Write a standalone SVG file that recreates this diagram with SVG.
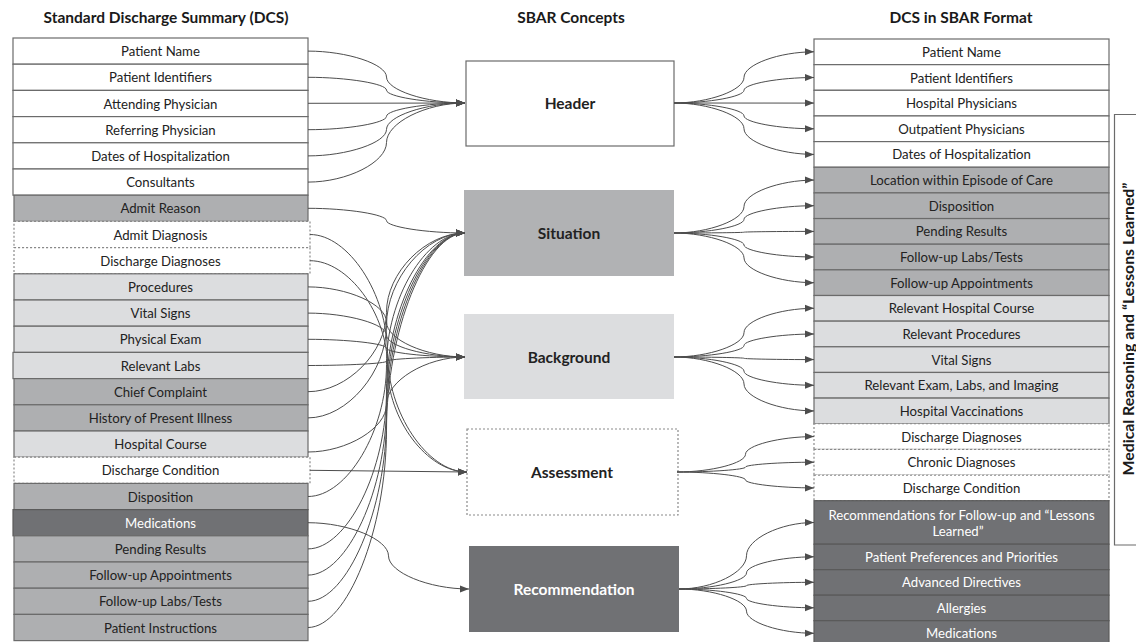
<svg xmlns="http://www.w3.org/2000/svg" width="1136" height="642" viewBox="0 0 1136 642">
<defs>
<style>
text{font-family:Lato,"Open Sans","Liberation Sans",sans-serif;fill:#222}
.t{font-size:15.5px;font-weight:bold;text-anchor:middle;fill:#1a1a1a}
.v{font-size:15.8px;font-weight:bold;text-anchor:middle;fill:#1a1a1a}
.r{font-size:13.2px;text-anchor:middle;dominant-baseline:central}
.c{font-size:15.5px;font-weight:bold;text-anchor:middle;dominant-baseline:central}
.w{fill:#fff}
.bw{fill:#fff;stroke:#6b6b6b;stroke-width:1.2}
.bm{fill:#aeafb1;stroke:#6b6b6b;stroke-width:1.2}
.bl{fill:#dcdddf;stroke:#6b6b6b;stroke-width:1.2}
.bd{fill:#707174;stroke:#5a5a5a;stroke-width:1.2}
.bx{fill:#fff;stroke:#8a8a8a;stroke-width:1.2;stroke-dasharray:2 2}
.cn{fill:none;stroke:#4d4d4d;stroke-width:1;marker-end:url(#ah)}
</style>
<marker id="ah" markerUnits="userSpaceOnUse" markerWidth="9" markerHeight="8" refX="9" refY="4" orient="auto">
<path d="M0,0.5 L9,4 L0,7.5 z" fill="#4d4d4d"/>
</marker>
</defs>
<rect width="1136" height="642" fill="#fff"/>
<g id="titles">
<text class="t" x="166" y="23">Standard Discharge Summary (DCS)</text>
<text class="t" x="571" y="23">SBAR Concepts</text>
<text class="t" x="961" y="23">DCS in SBAR Format</text>
</g>
<g id="left">
<g id="l0"><rect class="bw" x="13" y="38" width="295" height="26.2"/><text class="r" x="160.5" y="51.1">Patient Name</text></g>
<g id="l1"><rect class="bw" x="13" y="64.2" width="295" height="26.2"/><text class="r" x="160.5" y="77.3">Patient Identifiers</text></g>
<g id="l2"><rect class="bw" x="13" y="90.4" width="295" height="26.2"/><text class="r" x="160.5" y="103.5">Attending Physician</text></g>
<g id="l3"><rect class="bw" x="13" y="116.6" width="295" height="26.2"/><text class="r" x="160.5" y="129.7">Referring Physician</text></g>
<g id="l4"><rect class="bw" x="13" y="142.8" width="295" height="26.2"/><text class="r" x="160.5" y="155.9">Dates of Hospitalization</text></g>
<g id="l5"><rect class="bw" x="13" y="169" width="295" height="26.2"/><text class="r" x="160.5" y="182.1">Consultants</text></g>
<g id="l6"><rect class="bm" x="14" y="195.2" width="294" height="26.2"/><text class="r" x="160.5" y="208.3">Admit Reason</text></g>
<g id="l7"><rect class="bx" x="14" y="221.4" width="296" height="26.2"/><text class="r" x="160.5" y="234.5">Admit Diagnosis</text></g>
<g id="l8"><rect class="bx" x="14" y="247.6" width="296" height="26.2"/><text class="r" x="160.5" y="260.7">Discharge Diagnoses</text></g>
<g id="l9"><rect class="bl" x="14" y="273.8" width="294" height="26.2"/><text class="r" x="160.5" y="286.9">Procedures</text></g>
<g id="l10"><rect class="bl" x="14" y="300" width="294" height="26.2"/><text class="r" x="160.5" y="313.1">Vital Signs</text></g>
<g id="l11"><rect class="bl" x="14" y="326.2" width="294" height="26.2"/><text class="r" x="160.5" y="339.3">Physical Exam</text></g>
<g id="l12"><rect class="bl" x="13" y="352.4" width="295" height="26.2"/><text class="r" x="160.5" y="365.5">Relevant Labs</text></g>
<g id="l13"><rect class="bm" x="14" y="378.6" width="294" height="26.2"/><text class="r" x="160.5" y="391.7">Chief Complaint</text></g>
<g id="l14"><rect class="bm" x="14" y="404.8" width="294" height="26.2"/><text class="r" x="160.5" y="417.9">History of Present Illness</text></g>
<g id="l15"><rect class="bl" x="14" y="431" width="294" height="26.2"/><text class="r" x="160.5" y="444.1">Hospital Course</text></g>
<g id="l16"><rect class="bx" x="14" y="457.2" width="296" height="26.2"/><text class="r" x="160.5" y="470.3">Discharge Condition</text></g>
<g id="l17"><rect class="bm" x="14" y="483.4" width="294" height="26.2"/><text class="r" x="160.5" y="496.5">Disposition</text></g>
<g id="l18"><rect class="bd" x="13" y="509.6" width="295" height="26.2"/><text class="r w" x="160.5" y="522.7">Medications</text></g>
<g id="l19"><rect class="bm" x="14" y="535.8" width="294" height="26.2"/><text class="r" x="160.5" y="548.9">Pending Results</text></g>
<g id="l20"><rect class="bm" x="14" y="562" width="294" height="26.2"/><text class="r" x="160.5" y="575.1">Follow-up Appointments</text></g>
<g id="l21"><rect class="bm" x="14" y="588.2" width="294" height="26.2"/><text class="r" x="160.5" y="601.3">Follow-up Labs/Tests</text></g>
<g id="l22"><rect class="bm" x="14" y="614.4" width="294" height="26.2"/><text class="r" x="160.5" y="627.5">Patient Instructions</text></g>
</g>
<g id="center">
<g id="header"><rect x="466" y="61" width="208" height="85" fill="#fff" stroke="#6b6b6b" stroke-width="1.2"/><text class="c" x="570" y="103">Header</text></g>
<g id="situation"><rect x="464" y="190" width="210" height="86" fill="#b1b2b4"/><text class="c" x="569" y="233">Situation</text></g>
<g id="background"><rect x="464" y="314" width="210" height="85" fill="#dcdddf"/><text class="c" x="569" y="357">Background</text></g>
<g id="assessment"><rect x="467" y="429" width="211" height="86" fill="#fff" stroke="#8a8a8a" stroke-width="1.2" stroke-dasharray="2 2"/><text class="c" x="572" y="472">Assessment</text></g>
<g id="recommendation"><rect x="469" y="546" width="210" height="86" fill="#707174"/><text class="c w" x="574" y="589">Recommendation</text></g>
</g>
<g id="right">
<g id="r0"><rect class="bw" x="814" y="39" width="295" height="25.65"/><text class="r" x="961.5" y="51.8">Patient Name</text></g>
<g id="r1"><rect class="bw" x="814" y="64.65" width="295" height="25.65"/><text class="r" x="961.5" y="77.5">Patient Identifiers</text></g>
<g id="r2"><rect class="bw" x="814" y="90.3" width="295" height="25.65"/><text class="r" x="961.5" y="103.1">Hospital Physicians</text></g>
<g id="r3"><rect class="bw" x="814" y="115.95" width="295" height="25.65"/><text class="r" x="961.5" y="128.8">Outpatient Physicians</text></g>
<g id="r4"><rect class="bw" x="814" y="141.6" width="295" height="25.65"/><text class="r" x="961.5" y="154.4">Dates of Hospitalization</text></g>
<g id="r5"><rect class="bm" x="814" y="167.25" width="295" height="25.65"/><text class="r" x="961.5" y="180.1">Location within Episode of Care</text></g>
<g id="r6"><rect class="bm" x="814" y="192.9" width="295" height="25.65"/><text class="r" x="961.5" y="205.7">Disposition</text></g>
<g id="r7"><rect class="bm" x="814" y="218.55" width="295" height="25.65"/><text class="r" x="961.5" y="231.4">Pending Results</text></g>
<g id="r8"><rect class="bm" x="814" y="244.2" width="295" height="25.65"/><text class="r" x="961.5" y="257">Follow-up Labs/Tests</text></g>
<g id="r9"><rect class="bm" x="814" y="269.85" width="295" height="25.65"/><text class="r" x="961.5" y="282.7">Follow-up Appointments</text></g>
<g id="r10"><rect class="bl" x="814" y="295.5" width="295" height="25.65"/><text class="r" x="961.5" y="308.3">Relevant Hospital Course</text></g>
<g id="r11"><rect class="bl" x="814" y="321.15" width="295" height="25.65"/><text class="r" x="961.5" y="334">Relevant Procedures</text></g>
<g id="r12"><rect class="bl" x="814" y="346.8" width="295" height="25.65"/><text class="r" x="961.5" y="359.6">Vital Signs</text></g>
<g id="r13"><rect class="bl" x="814" y="372.45" width="295" height="25.65"/><text class="r" x="961.5" y="385.3">Relevant Exam, Labs, and Imaging</text></g>
<g id="r14"><rect class="bl" x="814" y="398.1" width="295" height="25.65"/><text class="r" x="961.5" y="410.9">Hospital Vaccinations</text></g>
<g id="r15"><rect class="bx" x="814" y="423.75" width="295" height="25.65"/><text class="r" x="961.5" y="436.6">Discharge Diagnoses</text></g>
<g id="r16"><rect class="bx" x="814" y="449.4" width="295" height="25.65"/><text class="r" x="961.5" y="462.2">Chronic Diagnoses</text></g>
<g id="r17"><rect class="bx" x="814" y="475.05" width="295" height="25.65"/><text class="r" x="961.5" y="487.9">Discharge Condition</text></g>
<g id="r18"><rect class="bd" x="814" y="500.7" width="295" height="43.5"/><text class="r w" x="961.5" y="514.5">Recommendations for Follow-up and “Lessons</text><text class="r w" x="958" y="531">Learned”</text></g>
<g id="r19"><rect class="bd" x="814" y="544.2" width="295" height="25.5"/><text class="r w" x="961.5" y="556.8">Patient Preferences and Priorities</text></g>
<g id="r20"><rect class="bd" x="814" y="569.7" width="295" height="25.5"/><text class="r w" x="961.5" y="582.3">Advanced Directives</text></g>
<g id="r21"><rect class="bd" x="814" y="595.2" width="295" height="25.5"/><text class="r w" x="961.5" y="607.8">Allergies</text></g>
<g id="r22"><rect class="bd" x="814" y="620.7" width="295" height="25.5"/><text class="r w" x="961.5" y="633.3">Medications</text></g>
</g>
<g id="bracket">
<path d="M1136,114.5 H1114.5 V545 H1136" fill="none" stroke="#6b6b6b" stroke-width="1.2"/>
<text class="v" transform="translate(1133.5,329) rotate(-90)" x="0" y="0">Medical Reasoning and “Lessons Learned”</text>
</g>
<g id="connectors">
<path class="cn" d="M308,51.1 C347.25,51.1 386.5,64.1 386.5,77.05 C386.5,90 425.75,103 465,103"/>
<path class="cn" d="M308,77.3 C347.25,77.3 386.5,83.7 386.5,90.15 C386.5,96.6 425.75,103 465,103"/>
<path class="cn" d="M308,103.3 L465,103"/>
<path class="cn" d="M308,129.7 C347.25,129.7 386.5,123 386.5,116.35 C386.5,109.7 425.75,103 465,103"/>
<path class="cn" d="M308,155.9 C347.25,155.9 386.5,142.7 386.5,129.45 C386.5,116.2 425.75,103 465,103"/>
<path class="cn" d="M308,182.1 C347.25,182.1 386.5,162.3 386.5,142.55 C386.5,122.8 425.75,103 465,103"/>
<path class="cn" d="M308,208.3 C347.25,208.3 386.5,214.5 386.5,220.65 C386.5,226.8 425.75,233 465,233"/>
<path class="cn" d="M308,391.7 C347.25,391.7 386.5,352 386.5,312.35 C386.5,272.7 425.75,233 465,233"/>
<path class="cn" d="M308,417.9 C347.25,417.9 386.5,371.7 386.5,325.45 C386.5,279.2 425.75,233 465,233"/>
<path class="cn" d="M308,496.5 C347.25,496.5 386.5,430.6 386.5,364.75 C386.5,298.9 425.75,233 465,233"/>
<path class="cn" d="M308,548.9 C347.25,548.9 386.5,469.9 386.5,390.95 C386.5,312 425.75,233 465,233"/>
<path class="cn" d="M308,575.1 C347.25,575.1 386.5,489.6 386.5,404.05 C386.5,318.5 425.75,233 465,233"/>
<path class="cn" d="M308,601.3 C347.25,601.3 386.5,509.2 386.5,417.15 C386.5,325.1 425.75,233 465,233"/>
<path class="cn" d="M308,627.5 C347.25,627.5 386.5,528.9 386.5,430.25 C386.5,331.6 425.75,233 465,233"/>
<path class="cn" d="M308,286.9 C347.25,286.9 386.5,304.4 386.5,321.95 C386.5,339.5 425.75,357 465,357"/>
<path class="cn" d="M308,313.1 C347.25,313.1 386.5,324.1 386.5,335.05 C386.5,346 425.75,357 465,357"/>
<path class="cn" d="M308,339.3 C347.25,339.3 386.5,343.7 386.5,348.15 C386.5,352.6 425.75,357 465,357"/>
<path class="cn" d="M308,365.5 C347.25,365.5 386.5,363.4 386.5,361.25 C386.5,359.1 425.75,357 465,357"/>
<path class="cn" d="M308,452 C347.25,452 386.5,428 386.5,404.5 C386.5,381 425.75,357 465,357"/>
<path class="cn" d="M310,234.5 C348.25,234.5 387.5,293.9 387.5,353.25 C387.5,412.6 427.25,472 467,472"/>
<path class="cn" d="M310,260.7 C348.25,260.7 387.5,313.5 387.5,366.35 C387.5,419.2 427.25,472 467,472"/>
<path class="cn" d="M310,470.3 L467,472"/>
<path class="cn" d="M308,522.7 C348.25,522.7 388.5,539.3 388.5,555.85 C388.5,572.4 428.75,589 469,589"/>
<path class="cn" d="M674,103 C709,103 744,90.2 744,77.4 C744,64.6 779,51.8 814,51.8"/>
<path class="cn" d="M674,103 C709,103 744,96.6 744,90.25 C744,83.9 779,77.5 814,77.5"/>
<path class="cn" d="M674,103 L814,103.1"/>
<path class="cn" d="M674,103 C709,103 744,109.45 744,115.9 C744,122.35 779,128.8 814,128.8"/>
<path class="cn" d="M674,103 C709,103 744,115.85 744,128.7 C744,141.55 779,154.4 814,154.4"/>
<path class="cn" d="M674,233 C709,233 744,219.8 744,206.55 C744,193.3 779,180.1 814,180.1"/>
<path class="cn" d="M674,233 C709,233 744,226.2 744,219.35 C744,212.5 779,205.7 814,205.7"/>
<path class="cn" d="M674,233 C709,233 744,232.6 744,232.2 C744,231.8 779,231.4 814,231.4"/>
<path class="cn" d="M674,233 C709,233 744,239 744,245 C744,251 779,257 814,257"/>
<path class="cn" d="M674,233 C709,233 744,245.4 744,257.85 C744,270.3 779,282.7 814,282.7"/>
<path class="cn" d="M674,357 C709,357 744,344.8 744,332.65 C744,320.5 779,308.3 814,308.3"/>
<path class="cn" d="M674,357 C709,357 744,351.25 744,345.5 C744,339.75 779,334 814,334"/>
<path class="cn" d="M674,357 C709,357 744,357.65 744,358.3 C744,358.95 779,359.6 814,359.6"/>
<path class="cn" d="M674,357 C709,357 744,364.1 744,371.15 C744,378.2 779,385.3 814,385.3"/>
<path class="cn" d="M674,357 C709,357 744,370.5 744,383.95 C744,397.4 779,410.9 814,410.9"/>
<path class="cn" d="M677,472 C711.25,472 745.5,463.15 745.5,454.3 C745.5,445.45 779.75,436.6 814,436.6"/>
<path class="cn" d="M677,472 C711.25,472 745.5,469.55 745.5,467.1 C745.5,464.65 779.75,462.2 814,462.2"/>
<path class="cn" d="M677,472 C711.25,472 745.5,476 745.5,479.95 C745.5,483.9 779.75,487.9 814,487.9"/>
<path class="cn" d="M679,589 C712.75,589 746.5,572.4 746.5,555.75 C746.5,539.1 780.25,522.5 814,522.5"/>
<path class="cn" d="M679,589 C712.75,589 746.5,580.95 746.5,572.9 C746.5,564.85 780.25,556.8 814,556.8"/>
<path class="cn" d="M679,589 C712.75,589 746.5,587.3 746.5,585.65 C746.5,584 780.25,582.3 814,582.3"/>
<path class="cn" d="M679,589 C712.75,589 746.5,593.7 746.5,598.4 C746.5,603.1 780.25,607.8 814,607.8"/>
<path class="cn" d="M679,589 C712.75,589 746.5,600.1 746.5,611.15 C746.5,622.2 780.25,633.3 814,633.3"/>
</g>
</svg>
